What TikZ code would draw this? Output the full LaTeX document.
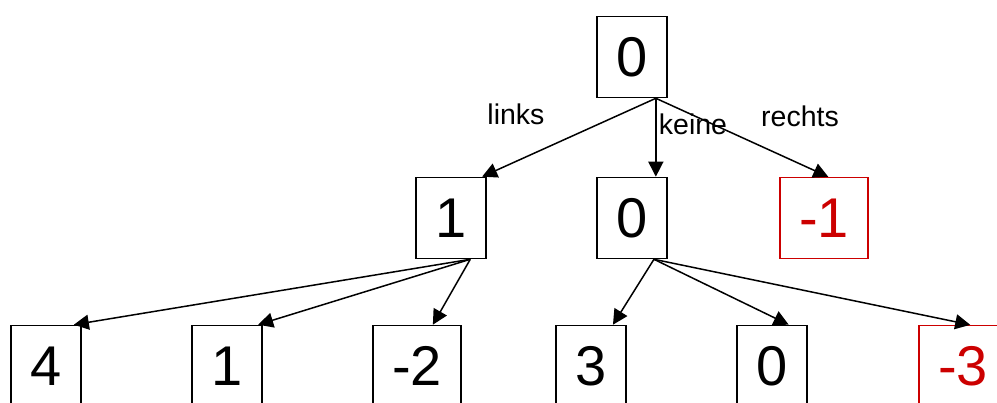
\documentclass[tikz,border=0pt]{standalone}
\usepackage{fontspec}
\setmainfont{Liberation Sans}
\usetikzlibrary{arrows.meta}
\definecolor{lossred}{HTML}{CC0000}
\begin{document}
\begin{tikzpicture}[x=1pt,y=-1pt]
            \clip (0,0) rectangle (997,403);
            \begin{scope}[every node/.style={rectangle,draw,line width=1.6pt,minimum width=70pt,minimum height=81pt,inner sep=0pt,font=\fontsize{56}{60}\selectfont}]
                \node (root) at (632,57) {0};
                \node (left) at (451,218) {1};
                \node (none) at (632,218) {0};
                \node[lossred,line width=1.3pt,minimum width=88pt] (right) at (824,218) {-1};
                \node (ll) at (46,366) {4};
                \node (ln) at (227,366) {1};
                \node[minimum width=88pt] (lr) at (417,366) {-2};
                \node (nl) at (591,366) {3};
                \node (nn) at (772,366) {0};
                \node[lossred,line width=1.3pt,minimum width=88pt] (nr) at (963,366) {-3};
            \end{scope}
            \begin{scope}[every edge/.style={draw,line width=1.5pt,-{Triangle[length=15pt,width=15pt]}}]
                \path (root.-60) edge (left.53);
                \path (root.-60) edge (none.60);
                \path (root.-60) edge (right.84);
                \path (left.-65) edge (ll.56);
                \path (left.-65) edge (ln.53);
                \path (left.-65) edge (lr.69);
                \path (none.-62) edge (nl.62);
                \path (none.-62) edge (nn.68);
                \path (none.-62) edge (nr.80);
            \end{scope}
            \begin{scope}[every node/.style={anchor=base,font=\fontsize{28.5}{32}\selectfont}]
                \node (links) at (516,125) {links};
                \node (keine) at (693,135) {keine};
                \node (rechts) at (800,127) {rechts};
            \end{scope}
        \end{tikzpicture}
\end{document}
